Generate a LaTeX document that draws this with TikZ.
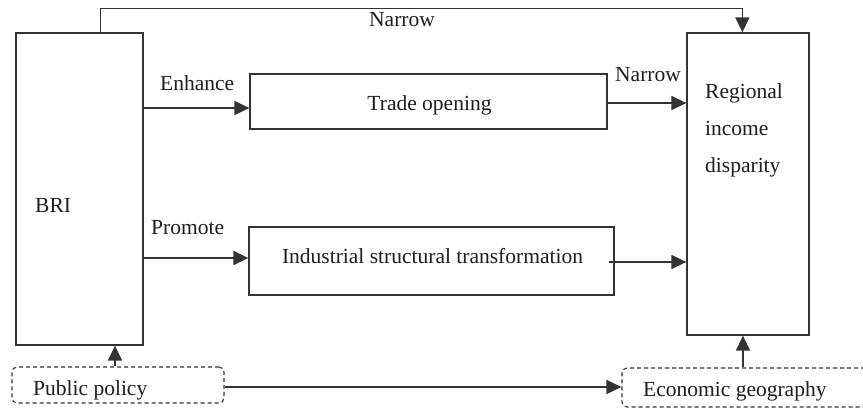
\documentclass[tikz,border=0pt]{standalone}
\usepackage{fontspec}
\setmainfont{Liberation Serif}
\usetikzlibrary{arrows.meta,calc}
\definecolor{linegray}{HTML}{333333}
\definecolor{textgray}{HTML}{1E1E1E}
\begin{document}
\begin{tikzpicture}[x=1pt,y=-1pt,
  every node/.style={text=textgray,font=\fontsize{21.5}{37}\selectfont},
  box/.style={draw=linegray,line width=1.3pt,inner sep=0pt,minimum width=#1},
  dbox/.style={draw=linegray,line width=1.1pt,dash pattern=on 4pt off 3pt,rounded corners=5pt,inner sep=0pt},
  lbl/.style={anchor=base west,inner sep=0pt},
  arr/.style={draw=linegray,line width=1.5pt,-{Triangle[length=15pt,width=14pt]}},
  ln/.style={draw=linegray,line width=1.5pt}]
\useasboundingbox (0,0) rectangle (863,409);

% main boxes
\node[box=127pt,minimum height=312pt] (bri) at (79.5,189) {};
\node[box=122pt,minimum height=302pt] (reg) at (748,184) {};
\node[box=357pt,minimum height=55pt] (trade) at (428.5,101.5) {};
\node[anchor=base,inner sep=0pt] (tradetxt) at (429.5,111) {Trade opening};
\node[box=365pt,minimum height=68pt] (ind) at (431.5,261) {};
\node[anchor=base,inner sep=0pt] (indtxt) at (432.5,263) {Industrial structural transformation};

% dashed context boxes
\node[dbox,minimum width=212pt,minimum height=36pt] (pol) at (118,385) {};
\node[dbox,minimum width=262pt,minimum height=39pt] (eco) at (753,387.5) {};

% texts
\node[lbl] (britxt) at (35,213) {BRI};
\node[lbl,align=left] (regtxt) at (705,173) {Regional\\income\\disparity};
\node[lbl] (poltxt) at (33,395) {Public policy};
\node[lbl] (ecotxt) at (643,396) {Economic geography};
\node[lbl] (l1) at (369,27) {Narrow};
\node[lbl] (l2) at (160,91) {Enhance};
\node[lbl] (l3) at (615,82) {Narrow};
\node[lbl] (l4) at (151,234) {Promote};

% connectors
\draw[arr] ($(bri.north west)+(85,0)$) -- ++(0,-24) -| ($(reg.north west)+(56,0)$);
\draw[arr] (bri.east |- {(0,108)}) -- (trade.west |- {(0,108)});
\draw[arr] (trade.east |- {(0,103)}) -- (reg.west |- {(0,103)});
\draw[arr] (bri.east |- {(0,258)}) -- (ind.west |- {(0,258)});
\draw[arr] ($(ind.east)+(-6,1)$) -- (reg.west |- {(0,262)});
\draw[arr] (pol.north -| {(115,0)}) -- (bri.south -| {(115,0)});
\draw[arr] (pol.east |- {(0,387)}) -- (eco.west |- {(0,387)});
\draw[arr] (eco.north -| {(743,0)}) -- (reg.south -| {(743,0)});
\end{tikzpicture}
\end{document}
